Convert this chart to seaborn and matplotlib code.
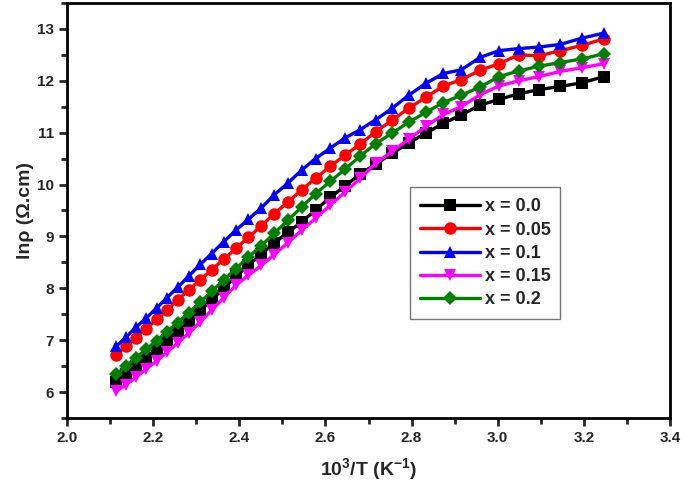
import seaborn as sns
import matplotlib.pyplot as plt
import pandas as pd

# 10^3/T values (K^-1)
inv_t = [2.114, 2.137, 2.160, 2.183, 2.208, 2.232, 2.257, 2.283, 2.309, 2.336,
         2.364, 2.392, 2.421, 2.451, 2.481, 2.513, 2.545, 2.577, 2.611, 2.646,
         2.681, 2.717, 2.755, 2.793, 2.833, 2.874, 2.915, 2.959, 3.003, 3.049,
         3.096, 3.145, 3.195, 3.247]

# ln(rho) for each composition
x_00 = [6.20, 6.35, 6.50, 6.66, 6.83, 7.00, 7.18, 7.37, 7.57, 7.78,
        8.00, 8.24, 8.44, 8.66, 8.87, 9.08, 9.28, 9.51, 9.75, 9.98,
        10.20, 10.40, 10.60, 10.80, 10.99, 11.18, 11.34, 11.53, 11.64, 11.75,
        11.83, 11.89, 11.96, 12.08]
x_005 = [6.72, 6.88, 7.05, 7.22, 7.40, 7.58, 7.78, 7.97, 8.16, 8.36,
         8.56, 8.77, 8.98, 9.20, 9.44, 9.66, 9.90, 10.12, 10.35, 10.57,
         10.78, 11.02, 11.24, 11.47, 11.68, 11.90, 12.02, 12.20, 12.33, 12.50,
         12.48, 12.58, 12.68, 12.81]
x_01 = [6.88, 7.06, 7.25, 7.42, 7.62, 7.82, 8.02, 8.24, 8.46, 8.67,
        8.90, 9.12, 9.33, 9.55, 9.80, 10.03, 10.28, 10.50, 10.70, 10.90,
        11.06, 11.25, 11.47, 11.72, 11.95, 12.14, 12.21, 12.45, 12.58, 12.62,
        12.65, 12.70, 12.82, 12.92]
x_015 = [6.02, 6.14, 6.29, 6.44, 6.60, 6.77, 6.95, 7.14, 7.35, 7.58,
         7.82, 8.06, 8.25, 8.44, 8.65, 8.88, 9.12, 9.35, 9.60, 9.86,
         10.12, 10.41, 10.64, 10.87, 11.12, 11.35, 11.50, 11.73, 11.90, 12.00,
         12.08, 12.18, 12.25, 12.33]
x_02 = [6.34, 6.50, 6.66, 6.82, 6.99, 7.16, 7.34, 7.53, 7.73, 7.94,
        8.16, 8.38, 8.60, 8.82, 9.06, 9.31, 9.57, 9.82, 10.06, 10.30,
        10.55, 10.79, 10.99, 11.20, 11.39, 11.58, 11.72, 11.88, 12.08, 12.19,
        12.28, 12.35, 12.42, 12.52]

labels = ['x = 0.0', 'x = 0.05', 'x = 0.1', 'x = 0.15', 'x = 0.2']
series = [x_00, x_005, x_01, x_015, x_02]
colors = ['black', '#ff0000', '#0000ff', '#ff00ff', '#008000']
marks = ['s', 'o', '^', 'v', 'D']

rows = []
for lab, vals in zip(labels, series):
    for xv, yv in zip(inv_t, vals):
        rows.append({'invT': xv, 'lnrho': yv, 'sample': lab})
df = pd.DataFrame(rows)

sns.set_theme(style='ticks')
plt.rcParams['font.family'] = ['Liberation Sans', 'DejaVu Sans']
plt.rcParams['mathtext.fontset'] = 'custom'
plt.rcParams['mathtext.bf'] = 'Liberation Sans:bold'
plt.rcParams['mathtext.rm'] = 'Liberation Sans:bold'
plt.rcParams['mathtext.default'] = 'bf'

fig = plt.figure(figsize=(6.85, 4.9), dpi=100)
ax = fig.add_axes([0.098, 0.147, 0.88, 0.847])

for lab, vals, c, m in zip(labels, series, colors, marks):
    sub = df[df['sample'] == lab]
    sns.lineplot(data=sub, x='invT', y='lnrho', ax=ax, color=c, marker=m,
                 markersize=9 if m != 'D' else 7.5, markeredgewidth=0,
                 linewidth=2.4, label=lab)

ax.set_xlim(2.0, 3.4)
ax.set_ylim(5.5, 13.5)
ax.set_xticks([2.0, 2.2, 2.4, 2.6, 2.8, 3.0, 3.2, 3.4])
ax.set_xticks([2.1, 2.3, 2.5, 2.7, 2.9, 3.1, 3.3], minor=True)
ax.set_yticks(range(6, 14))
ax.set_yticks([5.5 + i for i in range(9)], minor=True)
ax.xaxis.set_major_formatter(plt.FormatStrFormatter('%.1f'))
ax.tick_params(which='major', direction='out', length=6, width=2, labelsize=11)
ax.tick_params(which='minor', direction='out', length=4, width=2)
for lab_ in ax.get_xticklabels() + ax.get_yticklabels():
    lab_.set_fontweight('bold')
for sp in ax.spines.values():
    sp.set_visible(True)
    sp.set_linewidth(2)
    sp.set_color('black')

ax.set_xlabel('10$^{3}$/T (K$^{-1}$)', fontsize=14, fontweight='bold', labelpad=8)
ax.set_ylabel('ln\u03c1 (\u03a9.cm)', fontsize=14, fontweight='bold', labelpad=2)

leg = ax.legend(loc='lower left', bbox_to_anchor=(0.553, 0.216, 0.28, 0.32),
                mode='expand', frameon=True, fancybox=False, handlelength=3.3,
                prop={'weight': 'bold', 'size': 13}, borderpad=0.6,
                labelspacing=0.35, handletextpad=0.3)
leg.get_frame().set_edgecolor('#555555')
leg.get_frame().set_linewidth(1)

fig.savefig('out.png', dpi=100)
